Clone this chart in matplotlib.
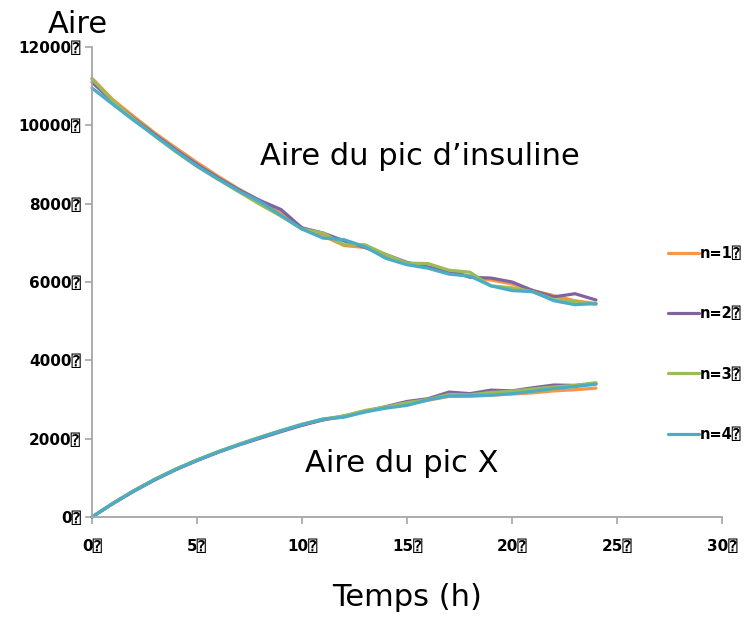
import matplotlib
matplotlib.use("Agg")
import matplotlib.pyplot as plt

# hours
temps = list(range(0, 25))

# aire du pic d'insuline, one list per run
insuline_n1 = [11200, 10650, 10220, 9800, 9420, 9050, 8700, 8370, 8070, 7780, 7380, 7180, 6930,
               6880, 6650, 6470, 6380, 6270, 6150, 6050, 5950, 5780, 5650, 5520, 5450]
insuline_n2 = [11100, 10600, 10170, 9760, 9370, 9000, 8660, 8350, 8080, 7850, 7380, 7250, 7050,
               6880, 6700, 6500, 6380, 6280, 6120, 6100, 6000, 5780, 5620, 5700, 5540]
insuline_n3 = [11180, 10620, 10150, 9720, 9320, 8950, 8620, 8300, 7980, 7680, 7350, 7250, 6950,
               6950, 6700, 6480, 6470, 6300, 6250, 5900, 5850, 5750, 5550, 5500, 5430]
insuline_n4 = [10950, 10530, 10120, 9730, 9340, 8960, 8630, 8320, 8050, 7700, 7350, 7120, 7080,
               6900, 6600, 6440, 6350, 6200, 6150, 5900, 5780, 5750, 5520, 5420, 5450]

# aire du pic X
picx_n1 = [0, 350, 670, 960, 1220, 1450, 1660, 1850, 2030, 2200, 2350, 2480, 2560,
           2700, 2800, 2870, 2980, 3080, 3080, 3110, 3140, 3170, 3220, 3250, 3290]
picx_n2 = [0, 345, 660, 950, 1210, 1440, 1650, 1840, 2010, 2180, 2340, 2480, 2580,
           2700, 2820, 2950, 3020, 3190, 3150, 3240, 3220, 3300, 3370, 3360, 3400]
picx_n3 = [0, 355, 680, 970, 1230, 1460, 1670, 1860, 2040, 2210, 2370, 2500, 2580,
           2720, 2810, 2920, 3000, 3130, 3120, 3180, 3210, 3270, 3320, 3360, 3430]
picx_n4 = [0, 350, 670, 960, 1220, 1450, 1660, 1850, 2030, 2200, 2360, 2500, 2550,
           2680, 2780, 2850, 2990, 3090, 3100, 3110, 3150, 3210, 3280, 3330, 3390]

labels = ['n=1\u2370', 'n=2\u2370', 'n=3\u2370', 'n=4\u2370']
colors = ['#F79646', '#8064A2', '#9BBB59', '#4BACC6']
xticks = [0, 5, 10, 15, 20, 25, 30]
yticks = [0, 2000, 4000, 6000, 8000, 10000, 12000]

fams = ['DejaVu Sans', 'DejaVu Sans Mono']
axis_grey = '#a6a6a6'

fig = plt.figure(figsize=(7.46, 6.17), dpi=100)
ax = fig.add_axes([0.1233, 0.162, 0.8445, 0.762])

insuline = [insuline_n1, insuline_n2, insuline_n3, insuline_n4]
picx = [picx_n1, picx_n2, picx_n3, picx_n4]
handles = []
for ins, px, c, lab in zip(insuline, picx, colors, labels):
    h, = ax.plot(temps, ins, color=c, linewidth=2.3, label=lab, clip_on=False,
                 solid_capstyle='round', solid_joinstyle='round')
    ax.plot(temps, px, color=c, linewidth=2.3, clip_on=False,
            solid_capstyle='round', solid_joinstyle='round')
    handles.append(h)

ax.set_xlim(0, 30)
ax.set_ylim(0, 12000)
ax.set_xticks(xticks)
ax.set_xticklabels([f'{v}\u2370' for v in xticks], family=fams, fontweight='bold', fontsize=11)
ax.set_yticks(yticks)
ax.set_yticklabels([f'{v}\u2370' for v in yticks], family=fams, fontweight='bold', fontsize=11)

for s in ['top', 'right']:
    ax.spines[s].set_visible(False)
for s in ['left', 'bottom']:
    ax.spines[s].set_color(axis_grey)
    ax.spines[s].set_linewidth(1.3)
ax.tick_params(axis='x', colors=axis_grey, labelcolor='black', length=5, width=1.2, pad=11)
ax.tick_params(axis='y', colors=axis_grey, labelcolor='black', length=5, width=1.2, pad=3)

fig.text(48 / 746, 1 - 33 / 617, 'Aire', fontsize=22, va='baseline', ha='left')
fig.text(407 / 746, 1 - 606 / 617, 'Temps (h)', fontsize=22, va='baseline', ha='center')
fig.text(260 / 746, 1 - 165 / 617, 'Aire du pic d\u2019insuline', fontsize=22, va='baseline', ha='left')
fig.text(305 / 746, 1 - 472 / 617, 'Aire du pic X', fontsize=22, va='baseline', ha='left')

leg = fig.legend(handles=handles, loc='upper left', bbox_to_anchor=(655 / 746, 1 - 233 / 617),
                 frameon=False, handlelength=2.1, handletextpad=0.1, labelspacing=3.1,
                 prop={'family': fams, 'weight': 'bold', 'size': 10.5})

fig.savefig('out.png', dpi=100)
